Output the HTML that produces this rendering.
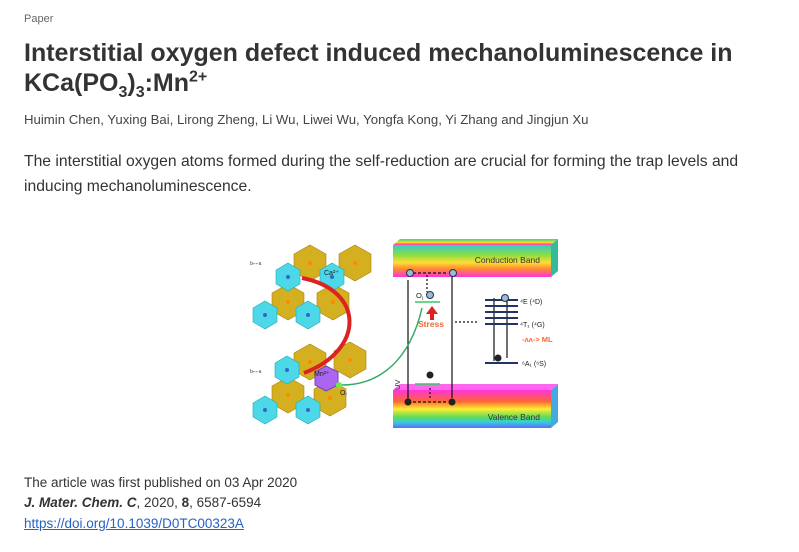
<!DOCTYPE html>
<html><head><meta charset="utf-8"><style>
body{margin:0;width:799px;height:552px;background:#fff;font-family:"Liberation Sans",sans-serif;color:#333;position:relative;overflow:hidden}
.a{position:absolute;white-space:nowrap}
sub,sup{line-height:0}
</style></head><body>
<div class="a" style="left:24px;top:38px;font-size:11px;color:#666;top:13px">Paper</div>
<div class="a" style="left:24px;top:38px;font-size:25px;font-weight:bold;line-height:30px;color:#333">Interstitial oxygen defect induced mechanoluminescence in<br>KCa(PO<sub style="font-size:16px">3</sub>)<sub style="font-size:16px">3</sub>:Mn<sup style="font-size:16px">2+</sup></div>
<div class="a" style="left:24px;top:112px;font-size:13.2px;color:#444">Huimin Chen, Yuxing Bai, Lirong Zheng, Li Wu, Liwei Wu, Yongfa Kong, Yi Zhang and Jingjun Xu</div>
<div class="a" style="left:24px;top:149px;font-size:15.7px;line-height:25px;color:#333">The interstitial oxygen atoms formed during the self-reduction are crucial for forming the trap levels and<br>inducing mechanoluminescence.</div>
<svg class="a" style="left:240px;top:230px" width="320" height="210" viewBox="0 0 320 210">
<defs>
<linearGradient id="cb" x1="0" y1="0" x2="0" y2="1"><stop offset="0" stop-color="#3cc"/><stop offset=".3" stop-color="#8d4"/><stop offset=".55" stop-color="#fd3"/><stop offset=".75" stop-color="#f83"/><stop offset="1" stop-color="#f3d"/></linearGradient>
<linearGradient id="vb" x1="0" y1="0" x2="0" y2="1"><stop offset="0" stop-color="#f3d"/><stop offset=".3" stop-color="#f63"/><stop offset=".5" stop-color="#fe3"/><stop offset=".7" stop-color="#6d5"/><stop offset=".85" stop-color="#3cd"/><stop offset="1" stop-color="#66f"/></linearGradient>
<g id="hy"><polygon points="0,-18 16,-9 16,9 0,18 -16,9 -16,-9" fill="#d4b020" stroke="#a88010" stroke-width=".6"/><circle r="2" fill="#f80"/></g>
<g id="hc"><polygon points="0,-14 12,-7 12,7 0,14 -12,7 -12,-7" fill="#4cd8e8" stroke="#2aa" stroke-width=".6"/><circle r="2" fill="#36c"/></g>
</defs>
<polygon points="153,15 160,9 318,9 311,15" fill="url(#cb)"/>
<rect x="153" y="15" width="158" height="32" fill="url(#cb)"/>
<polygon points="311,15 318,9 318,41 311,47" fill="#3b9"/>
<polygon points="153,160 160,154 318,154 311,160" fill="#f6e"/>
<rect x="153" y="160" width="158" height="38" fill="url(#vb)"/>
<polygon points="311,160 318,154 318,192 311,198" fill="#4ad"/>
<text x="300" y="33" font-size="8.5" text-anchor="end" fill="#333">Conduction Band</text>
<text x="300" y="190" font-size="8.5" text-anchor="end" fill="#333">Valence Band</text>
<g stroke="#111" fill="none" stroke-width="1.2">
<line x1="168" y1="170" x2="168" y2="50"/><line x1="212" y1="42" x2="212" y2="168"/>
<line x1="168" y1="43" x2="208" y2="43" stroke-dasharray="3 2"/>
<line x1="168" y1="172" x2="208" y2="172" stroke-dasharray="3 2"/>
<line x1="187" y1="45" x2="187" y2="62" stroke-dasharray="2 2"/>
<line x1="190" y1="158" x2="190" y2="170" stroke-dasharray="2 2"/>
<line x1="215" y1="92" x2="237" y2="92" stroke-dasharray="2 2"/>
<line x1="254" y1="68" x2="254" y2="131"/><line x1="267" y1="70" x2="267" y2="128"/>
</g>
<g stroke="#236" stroke-width="2"><line x1="245" y1="70" x2="278" y2="70"/><line x1="245" y1="76" x2="278" y2="76"/><line x1="245" y1="82" x2="278" y2="82"/><line x1="245" y1="88" x2="278" y2="88"/><line x1="245" y1="94" x2="278" y2="94"/><line x1="245" y1="133" x2="278" y2="133"/></g>
<line x1="175" y1="72" x2="200" y2="72" stroke="#3c6" stroke-width="1.5"/>
<line x1="175" y1="154" x2="200" y2="154" stroke="#3c6" stroke-width="1.5"/>
<g fill="#9bd" stroke="#234"><circle cx="170" cy="43" r="3.5"/><circle cx="213" cy="43" r="3.5"/><circle cx="190" cy="65" r="3.5"/><circle cx="265" cy="68" r="3.5"/></g>
<g fill="#222"><circle cx="168" cy="172" r="3.5"/><circle cx="212" cy="172" r="3.5"/><circle cx="190" cy="145" r="3.5"/><circle cx="258" cy="128" r="3.5"/></g>
<polygon points="192,76 186,84 190,84 190,90 194,90 194,84 198,84" fill="#d22"/>
<text x="178" y="97" font-size="8.5" font-weight="bold" fill="#e63">Stress</text>
<text x="176" y="68" font-size="7.5" fill="#222">O<tspan font-size="5" dy="2">i</tspan></text>
<text x="160" y="160" font-size="7.5" fill="#333" transform="rotate(-90 160 160)">UV</text>
<text x="280" y="74" font-size="7" fill="#222">⁴E (⁴D)</text>
<text x="280" y="97" font-size="7" fill="#222">⁴T₁ (⁴G)</text>
<text x="282" y="112" font-size="7.5" font-weight="bold" fill="#f63">-ʌʌ-&gt; ML</text>
<text x="282" y="136" font-size="7" fill="#222">⁶A₁ (⁶S)</text>
<use href="#hy" x="70" y="33"/><use href="#hy" x="115" y="33"/><use href="#hy" x="48" y="72"/><use href="#hy" x="93" y="72"/>
<use href="#hc" x="48" y="47"/><use href="#hc" x="92" y="47"/><use href="#hc" x="25" y="85"/><use href="#hc" x="68" y="85"/>
<text x="84" y="45" font-size="7" fill="#222">Ca²⁺</text>
<use href="#hy" x="70" y="132"/><use href="#hy" x="110" y="130"/><use href="#hy" x="48" y="165"/><use href="#hy" x="90" y="168"/>
<use href="#hc" x="47" y="140"/><use href="#hc" x="25" y="180"/><use href="#hc" x="68" y="180"/>
<polygon points="86,136 98,142 98,155 86,161 75,155 75,142" fill="#a6e" stroke="#74b"/>
<circle cx="99" cy="155" r="3" fill="#6e4"/>
<text x="74" y="146" font-size="7" fill="#222">Mn²⁺</text>
<text x="100" y="165" font-size="7" fill="#222">Oᵢ</text>
<path d="M62,48 C125,60 125,120 64,143" stroke="#d22" stroke-width="4" fill="none"/>
<path d="M182,78 C170,130 140,155 102,155" stroke="#3a6" stroke-width="1.5" fill="none"/>
<text x="10" y="35" font-size="5" fill="#444">b⌐⌐a</text>
<text x="10" y="143" font-size="5" fill="#444">b⌐⌐a</text>
</svg>
<div class="a" style="left:24px;top:475px;font-size:13.5px;color:#333">The article was first published on 03 Apr 2020</div>
<div class="a" style="left:24px;top:495px;font-size:13.5px;color:#333"><b><i>J. Mater. Chem. C</i></b>, 2020, <b>8</b>, 6587-6594</div>
<div class="a" style="left:24px;top:516px;font-size:13.5px;color:#2563c4;text-decoration:underline">https://doi.org/10.1039/D0TC00323A</div>
</body></html>
